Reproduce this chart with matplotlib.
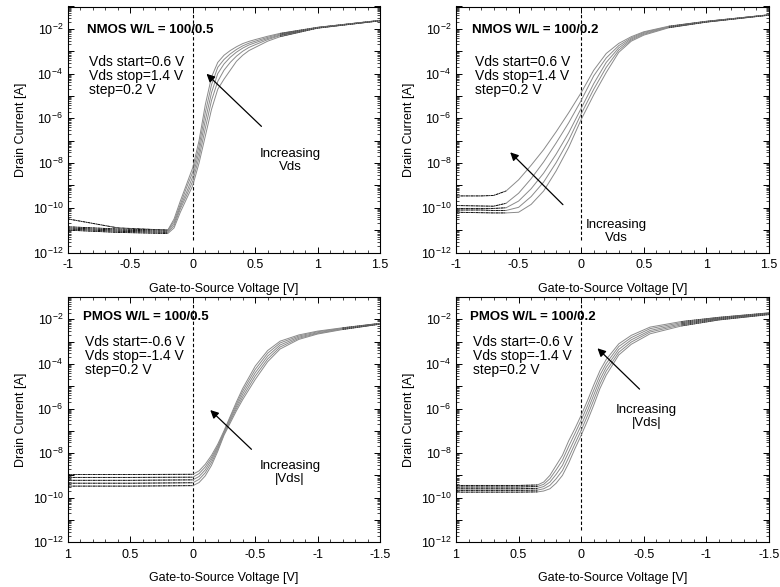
import numpy as np
import matplotlib.pyplot as plt
from matplotlib.ticker import LogLocator, MultipleLocator, FuncFormatter, NullFormatter

plt.rcParams['font.family'] = ['Liberation Sans', 'DejaVu Sans']
plt.rcParams['mathtext.default'] = 'regular'
plt.rcParams['axes.unicode_minus'] = False
plt.rcParams['font.size'] = 9

# NMOS W/L = 100/0.5, log10(Id) for Vds = 1.4, 1.2, 1.0, 0.8, 0.6 V
vgs_n05 = [-1.0, -0.6, -0.2, -0.15, -0.1, -0.05, 0.0, 0.05, 0.1, 0.15, 0.2, 0.25, 0.3, 0.35, 0.4, 0.45, 0.5, 0.6, 0.7, 1.0, 1.5]
n05_vds14 = [-10.5, -10.9, -11.0, -10.5, -9.7, -8.95, -8.2, -7.0, -5.4, -4.15, -3.5, -3.18, -2.97, -2.8, -2.66, -2.56, -2.48, -2.33, -2.2, -1.93, -1.62]
n05_vds12 = [-10.85, -10.95, -11.0, -10.6, -9.85, -9.1, -8.4, -7.25, -5.75, -4.5, -3.72, -3.37, -3.12, -2.92, -2.76, -2.64, -2.55, -2.38, -2.23, -1.94, -1.62]
n05_vds10 = [-10.9, -11.0, -11.05, -10.7, -9.95, -9.3, -8.6, -7.5, -6.1, -4.85, -4.0, -3.57, -3.27, -3.04, -2.86, -2.72, -2.62, -2.43, -2.27, -1.95, -1.63]
n05_vds08 = [-10.95, -11.05, -11.1, -10.8, -10.05, -9.45, -8.8, -7.75, -6.45, -5.2, -4.35, -3.85, -3.5, -3.22, -3.0, -2.83, -2.71, -2.48, -2.3, -1.96, -1.64]
n05_vds06 = [-11.0, -11.1, -11.15, -10.9, -10.2, -9.6, -9.0, -8.0, -6.8, -5.6, -4.7, -4.25, -3.85, -3.45, -3.18, -2.97, -2.83, -2.55, -2.35, -1.97, -1.64]

# NMOS W/L = 100/0.2
vgs_n02 = [-1.0, -0.8, -0.7, -0.6, -0.5, -0.4, -0.3, -0.2, -0.1, 0.0, 0.1, 0.2, 0.3, 0.4, 0.5, 0.7, 1.0, 1.5]
n02_vds14 = [-9.47, -9.47, -9.45, -9.25, -8.75, -8.1, -7.4, -6.6, -5.75, -4.85, -3.85, -3.1, -2.65, -2.35, -2.13, -1.88, -1.66, -1.37]
n02_vds12 = [-9.9, -9.92, -9.93, -9.8, -9.35, -8.7, -7.95, -7.1, -6.2, -5.2, -4.1, -3.3, -2.75, -2.4, -2.16, -1.9, -1.67, -1.37]
n02_vds10 = [-10.03, -10.03, -10.03, -10.0, -9.7, -9.15, -8.45, -7.6, -6.65, -5.55, -4.45, -3.5, -2.85, -2.45, -2.2, -1.92, -1.68, -1.38]
n02_vds08 = [-10.1, -10.1, -10.12, -10.12, -9.98, -9.5, -8.85, -7.98, -6.98, -5.8, -4.7, -3.72, -2.95, -2.5, -2.24, -1.93, -1.69, -1.38]
n02_vds06 = [-10.2, -10.22, -10.23, -10.23, -10.2, -9.85, -9.25, -8.35, -7.3, -6.05, -4.95, -3.95, -3.05, -2.55, -2.28, -1.95, -1.7, -1.39]

# PMOS W/L = 100/0.5, |Vds| = 1.4 ... 0.6 V
vgs_p05 = [1.0, 0.5, 0.0, -0.05, -0.1, -0.15, -0.2, -0.25, -0.3, -0.35, -0.4, -0.5, -0.6, -0.7, -0.85, -1.0, -1.2, -1.5]
p05_vds14 = [-8.96, -8.96, -8.95, -8.8, -8.5, -8.1, -7.6, -7.0, -6.35, -5.7, -5.1, -4.1, -3.4, -2.98, -2.7, -2.53, -2.38, -2.18]
p05_vds12 = [-9.09, -9.09, -9.08, -8.92, -8.62, -8.2, -7.68, -7.05, -6.42, -5.8, -5.22, -4.25, -3.52, -3.06, -2.75, -2.56, -2.4, -2.19]
p05_vds10 = [-9.22, -9.22, -9.2, -9.05, -8.75, -8.3, -7.75, -7.1, -6.5, -5.9, -5.35, -4.4, -3.65, -3.15, -2.8, -2.6, -2.42, -2.2]
p05_vds08 = [-9.35, -9.35, -9.33, -9.18, -8.88, -8.42, -7.83, -7.15, -6.57, -6.0, -5.48, -4.55, -3.78, -3.24, -2.85, -2.63, -2.44, -2.21]
p05_vds06 = [-9.48, -9.48, -9.46, -9.32, -9.02, -8.55, -7.92, -7.2, -6.65, -6.1, -5.6, -4.7, -3.9, -3.33, -2.9, -2.66, -2.46, -2.22]

# PMOS W/L = 100/0.2
vgs_p02 = [1.0, 0.5, 0.35, 0.3, 0.25, 0.2, 0.15, 0.1, 0.05, 0.0, -0.05, -0.1, -0.15, -0.2, -0.3, -0.4, -0.55, -0.8, -1.1, -1.5]
p02_vds14 = [-9.45, -9.45, -9.43, -9.3, -9.0, -8.55, -8.1, -7.45, -6.9, -6.3, -5.65, -4.95, -4.3, -3.8, -3.1, -2.72, -2.35, -2.1, -1.91, -1.71]
p02_vds12 = [-9.52, -9.52, -9.5, -9.4, -9.15, -8.75, -8.32, -7.7, -7.12, -6.52, -5.88, -5.18, -4.5, -3.98, -3.22, -2.82, -2.42, -2.15, -1.94, -1.73]
p02_vds10 = [-9.6, -9.6, -9.58, -9.5, -9.3, -8.95, -8.55, -7.95, -7.35, -6.75, -6.1, -5.4, -4.7, -4.15, -3.35, -2.92, -2.5, -2.2, -1.97, -1.75]
p02_vds08 = [-9.67, -9.67, -9.66, -9.6, -9.45, -9.15, -8.78, -8.2, -7.58, -6.98, -6.32, -5.62, -4.9, -4.32, -3.48, -3.02, -2.57, -2.25, -2.0, -1.77]
p02_vds06 = [-9.75, -9.75, -9.74, -9.7, -9.6, -9.35, -9.0, -8.45, -7.8, -7.2, -6.55, -5.85, -5.1, -4.5, -3.6, -3.12, -2.65, -2.3, -2.03, -1.79]

W, H = 780, 587
fig = plt.figure(figsize=(W / 100, H / 100), dpi=100)


def box(l, t, r, b):
    return [l / W, 1 - b / H, (r - l) / W, (b - t) / H]


def ylab(v, pos):
    e = int(round(np.log10(v)))
    return r'$10^{%d}$' % e if e % 2 == 0 else ''


def setup(ax, xlim):
    ax.set_yscale('log')
    ax.set_ylim(1e-12, 1e-1)
    ax.set_xlim(*xlim)
    ax.yaxis.set_major_locator(LogLocator(base=10, numticks=20))
    ax.yaxis.set_minor_locator(LogLocator(base=10, subs=np.arange(2, 10), numticks=20))
    ax.yaxis.set_major_formatter(FuncFormatter(ylab))
    ax.yaxis.set_minor_formatter(NullFormatter())
    ax.xaxis.set_major_locator(MultipleLocator(0.5))
    ax.xaxis.set_minor_locator(MultipleLocator(0.1))
    ax.xaxis.set_major_formatter(FuncFormatter(lambda v, p: '%g' % (round(v, 2) + 0.0)))
    ax.tick_params(which='both', direction='in', top=True, right=True, labelsize=9)
    ax.tick_params(which='major', length=4, width=0.7)
    ax.tick_params(which='minor', length=2, width=0.5)
    ax.tick_params(axis='x', pad=5)
    for s in ax.spines.values():
        s.set_linewidth(0.8)
    ax.set_xlabel('Gate-to-Source Voltage [V]', labelpad=8)
    ax.set_ylabel('Drain Current [A]', labelpad=4)
    ax.axvline(0, ymin=0.05, ymax=0.97, color='k', ls='--', lw=0.8, dashes=(3, 2))


def curves(ax, vgs, series, n_flat, n_top):
    vgs = np.array(vgs)
    for s in series:
        y = 10 ** np.array(s)
        ax.plot(vgs, y, color='#8a8a8a', lw=0.7)
        ax.plot(vgs[:n_flat], y[:n_flat], color='k', lw=0.6, ls=(0, (3, 1, 1, 1)))
        ax.plot(vgs[-n_top:], y[-n_top:], color='#222222', lw=0.5, ls=(0, (2, 1)))


ax_tl = fig.add_axes(box(68, 6.5, 380, 252.5))
ax_tr = fig.add_axes(box(456, 6.5, 769, 252.5))
ax_bl = fig.add_axes(box(68, 297, 380, 542.3))
ax_br = fig.add_axes(box(456, 297, 769, 542.3))

setup(ax_tl, (-1, 1.5))
setup(ax_tr, (-1, 1.5))
setup(ax_bl, (1, -1.5))
setup(ax_br, (1, -1.5))

curves(ax_tl, vgs_n05, [n05_vds14, n05_vds12, n05_vds10, n05_vds08, n05_vds06], 3, 3)
curves(ax_tr, vgs_n02, [n02_vds14, n02_vds12, n02_vds10, n02_vds08, n02_vds06], 4, 3)
curves(ax_bl, vgs_p05, [p05_vds14, p05_vds12, p05_vds10, p05_vds08, p05_vds06], 3, 2)
curves(ax_br, vgs_p02, [p02_vds14, p02_vds12, p02_vds10, p02_vds08, p02_vds06], 3, 3)


def ftext(px, py, s, **kw):
    fig.text(px / W, 1 - py / H, s, va='center', **kw)


# panel labels
ftext(87, 30, 'NMOS W/L = 100/0.5', fontweight='bold', fontsize=9.5)
ftext(472, 30, 'NMOS W/L = 100/0.2', fontweight='bold', fontsize=9.5)
ftext(83, 317, 'PMOS W/L = 100/0.5', fontweight='bold', fontsize=9.5)
ftext(470, 317, 'PMOS W/L = 100/0.2', fontweight='bold', fontsize=9.5)

for px, py, lines in [(89, 61.7, ['Vds start=0.6 V', 'Vds stop=1.4 V', 'step=0.2 V']),
                      (475, 61.7, ['Vds start=0.6 V', 'Vds stop=1.4 V', 'step=0.2 V']),
                      (85, 342.3, ['Vds start=-0.6 V', 'Vds stop=-1.4 V', 'step=0.2 V']),
                      (473, 341.7, ['Vds start=-0.6 V', 'Vds stop=-1.4 V', 'step=0.2 V'])]:
    for i, t in enumerate(lines):
        ftext(px, py + i * 14, t, fontsize=10)

arrow = dict(arrowstyle='-|>', color='k', lw=0.9, mutation_scale=12, shrinkA=0, shrinkB=0)
ax_tl.annotate('', xy=(0.11, 10 ** -4.01), xytext=(0.55, 10 ** -6.36), arrowprops=arrow)
ax_tr.annotate('', xy=(-0.567, 10 ** -7.52), xytext=(-0.146, 10 ** -9.86), arrowprops=arrow)
ax_bl.annotate('', xy=(-0.14, 10 ** -6.07), xytext=(-0.47, 10 ** -7.83), arrowprops=arrow)
ax_br.annotate('', xy=(-0.13, 10 ** -3.3), xytext=(-0.466, 10 ** -5.13), arrowprops=arrow)

ax_tl.text(0.78, 10 ** -7.9, 'Increasing\nVds', ha='center', va='center', fontsize=9.5, linespacing=1.15)
ax_tr.text(0.28, 10 ** -11.05, 'Increasing\nVds', ha='center', va='center', fontsize=9.5, linespacing=1.15)
ax_bl.text(-0.78, 10 ** -8.87, 'Increasing\n|Vds|', ha='center', va='center', fontsize=9.5, linespacing=1.15)
ax_br.text(-0.52, 10 ** -6.37, 'Increasing\n|Vds|', ha='center', va='center', fontsize=9.5, linespacing=1.15)

plt.savefig('out.png', dpi=100)
